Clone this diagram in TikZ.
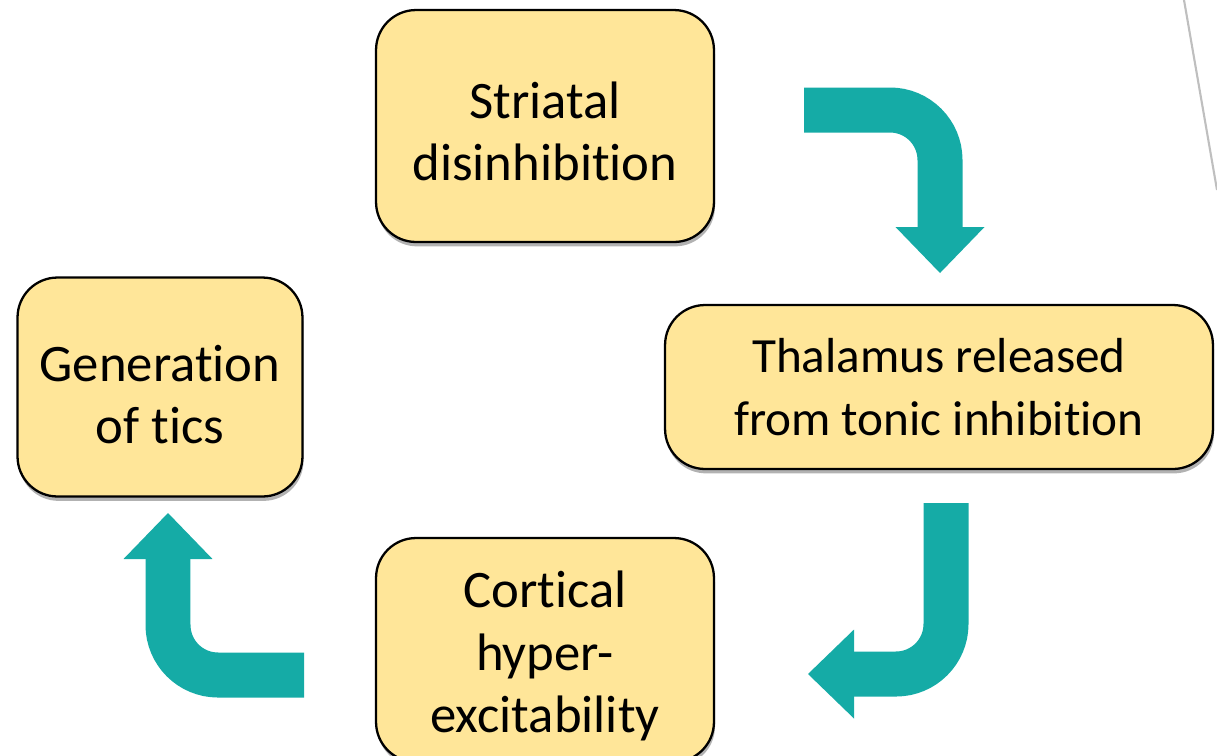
\documentclass[tikz,border=0pt]{standalone}
\usepackage{fontspec}
\setmainfont{Carlito}[Ligatures=NoCommon]
\usepackage{xcolor}
\usetikzlibrary{arrows.meta,shadows}

\definecolor{boxfill}{HTML}{FFE699}
\definecolor{flowteal}{HTML}{15ABA6}
\newcommand{\topgap}[1]{\rule{0pt}{#1}}

\begin{document}
\begin{tikzpicture}[
    x=0.02cm, y=-0.02cm,
    box/.style={draw=black, line width=1.3pt, fill=boxfill, rounded corners=0.8cm,
      align=center, inner sep=0pt, font=\fontsize{30}{35.5}\selectfont,
      drop shadow={shadow xshift=0.6pt, shadow yshift=-2.5pt, fill=black, opacity=0.3}},
    flow/.style={draw=flowteal, line width=0.9cm, rounded corners=1cm,
      -{Triangle[width=1.78cm,length=0.92cm,line width=0pt]}}
  ]
    \clip (0,0) rectangle (1217,755);

    % the four stages
    \node[box, minimum width=6.76cm, minimum height=4.64cm] (striatal) at (545,126)
      {\topgap{27pt}Striatal\\disinhibition};
    \node[box, font=\fontsize{28}{35.5}\selectfont, minimum width=10.96cm, minimum height=3.28cm]
      (thalamus) at (939,387) {Thalamus released\\from tonic inhibition};
    \node[box, minimum width=6.76cm, minimum height=4.48cm] (cortical) at (545,650)
      {\topgap{28pt}Cortical\\hyper-\\excitability};
    \node[box, minimum width=5.7cm, minimum height=4.38cm] (tics) at (160,387)
      {\topgap{29.5pt}Generation\\of tics};

    % bent arrows between them
    \coordinate (s1) at (804,110);
    \coordinate (m1) at (940,110);
    \coordinate (e1) at (940,273);
    \coordinate (s2) at (946,503);
    \coordinate (m2) at (946,674);
    \coordinate (e2) at (808,674);
    \coordinate (s3) at (304,675);
    \coordinate (m3) at (168,675);
    \coordinate (e3) at (168,513);

    \draw[flow] (s1) -- (m1) -- (e1);
    \draw[flow] (s2) -- (m2) -- (e2);
    \draw[flow] (s3) -- (m3) -- (e3);

    % slide edge
    \draw[gray!50, line width=1.2pt] (1184,0) -- (1217,190);
  \end{tikzpicture}
\end{document}
